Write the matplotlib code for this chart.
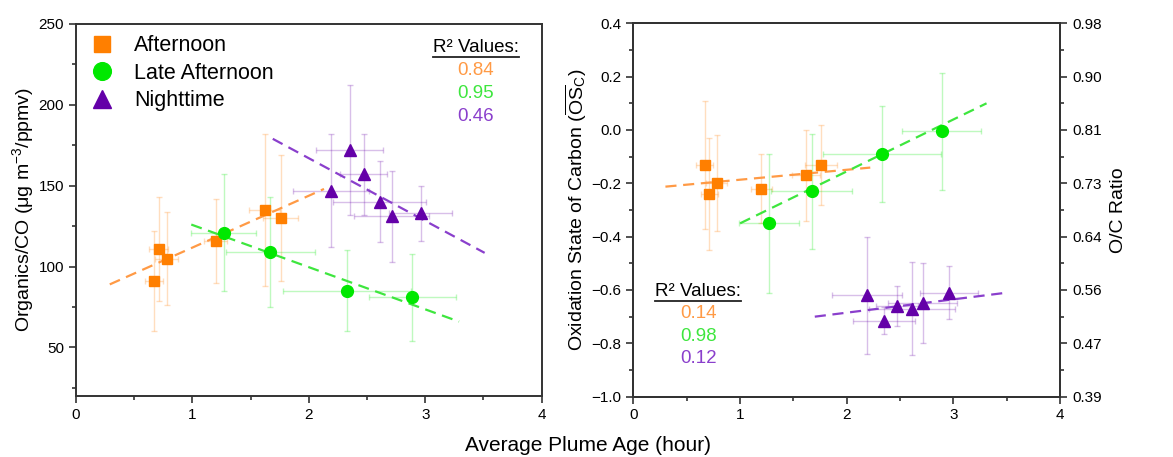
import matplotlib
matplotlib.use("Agg")
import matplotlib.pyplot as plt
from matplotlib.ticker import MultipleLocator

plt.rcParams["font.family"] = ["Liberation Sans", "DejaVu Sans"]
plt.rcParams["mathtext.fontset"] = "custom"
plt.rcParams["mathtext.rm"] = "Liberation Sans"
plt.rcParams["mathtext.it"] = "Liberation Sans:italic"

# plume age (hour) and its spread, shared by both panels
age_aft = [0.67, 0.71, 0.78, 1.20, 1.62, 1.76]
age_aft_err = [0.08, 0.08, 0.10, 0.10, 0.13, 0.15]
age_late = [1.27, 1.67, 2.33, 2.89]
age_late_err = [0.28, 0.38, 0.55, 0.37]
age_night = [2.19, 2.35, 2.47, 2.61, 2.71, 2.96]
age_night_err = [0.33, 0.29, 0.20, 0.40, 0.32, 0.27]

# left panel: Organics/CO
org_aft = [91, 111, 105, 116, 135, 130]
org_aft_err = [31, 32, 29, 26, 47, 39]
org_late = [121, 109, 85, 81]
org_late_err = [36, 34, 25, 27]
org_night = [147, 172, 157, 140, 131, 133]
org_night_err = [35, 40, 25, 25, 28, 17]

# right panel: carbon oxidation state
osc_aft = [-0.13, -0.24, -0.20, -0.22, -0.17, -0.13]
osc_aft_err = [0.24, 0.21, 0.18, 0.13, 0.17, 0.15]
osc_late = [-0.35, -0.23, -0.09, -0.005]
osc_late_err = [0.26, 0.215, 0.18, 0.22]
osc_night = [-0.62, -0.715, -0.66, -0.67, -0.65, -0.61]
osc_night_err = [0.22, 0.05, 0.075, 0.175, 0.15, 0.10]

# linear fits (end points)
fit_org_aft = ([0.29, 2.13], [89, 148])
fit_org_late = ([0.99, 3.29], [126, 66])
fit_org_night = ([1.69, 3.51], [179, 108.5])
fit_osc_aft = ([0.30, 2.22], [-0.2125, -0.141])
fit_osc_late = ([1.00, 3.31], [-0.35, 0.10])
fit_osc_night = ([1.70, 3.50], [-0.70, -0.61])

r2_org = ["0.84", "0.95", "0.46"]
r2_osc = ["0.14", "0.98", "0.12"]

osc_ticks = [0.4, 0.2, 0.0, -0.2, -0.4, -0.6, -0.8, -1.0]
oc_labels = ["0.98", "0.90", "0.81", "0.73", "0.64", "0.56", "0.47", "0.39"]

labels = ["Afternoon", "Late Afternoon", "Nighttime"]
colors = ["#FF7F00", "#00E800", "#6400A8"]
line_colors = ["#FF9A45", "#3EE63E", "#8A3FCC"]
markers = ["s", "o", "^"]
msizes = [7.5, 8.5, 9]

fig = plt.figure(figsize=(11.73, 4.57), dpi=100)
ax1 = fig.add_axes([0.0648, 0.1335, 0.397, 0.814])
ax2 = fig.add_axes([0.540, 0.132, 0.3638, 0.817])


def draw_panel(ax, ys, yerrs, fits):
    xs = [age_aft, age_late, age_night]
    xerrs = [age_aft_err, age_late_err, age_night_err]
    for i in range(3):
        ax.errorbar(xs[i], ys[i], yerr=yerrs[i], xerr=xerrs[i], fmt="none",
                    ecolor=colors[i], alpha=0.25, elinewidth=1, capsize=2.5, zorder=1)
    for i in range(3):
        ax.plot(fits[i][0], fits[i][1], ls=(0, (5, 3)), lw=1.6,
                color=line_colors[i], zorder=2)
    for i in range(3):
        ax.plot(xs[i], ys[i], ls="none", marker=markers[i], ms=msizes[i],
                color=colors[i], mec=colors[i], label=labels[i], zorder=3)
    ax.set_xlim(0, 4)
    ax.xaxis.set_major_locator(MultipleLocator(1))
    ax.xaxis.set_minor_locator(MultipleLocator(0.5))
    ax.tick_params(which="both", direction="out", labelsize=11, color="#333333",
                   width=1.2)
    ax.tick_params(which="major", length=5)
    ax.tick_params(which="minor", length=3)
    for s in ax.spines.values():
        s.set_linewidth(1.4)
        s.set_color("#333333")


draw_panel(ax1, [org_aft, org_late, org_night],
           [org_aft_err, org_late_err, org_night_err],
           [fit_org_aft, fit_org_late, fit_org_night])
ax1.set_ylim(20, 250)
ax1.yaxis.set_major_locator(MultipleLocator(50))
ax1.yaxis.set_minor_locator(MultipleLocator(25))
ax1.set_ylabel("Organics/CO (μg m$^{-3}$/ppmv)", fontsize=14, labelpad=2)
ax1.legend(loc="upper left", bbox_to_anchor=(0.033, 0.97), frameon=False,
           fontsize=15.5, markerscale=1.5, handlelength=1.0, handletextpad=1.0,
           labelspacing=0.3, borderpad=0, borderaxespad=0)

draw_panel(ax2, [osc_aft, osc_late, osc_night],
           [osc_aft_err, osc_late_err, osc_night_err],
           [fit_osc_aft, fit_osc_late, fit_osc_night])
ax2.set_ylim(-1.0, 0.4)
ax2.set_yticks(osc_ticks)
ax2.yaxis.set_minor_locator(MultipleLocator(0.1))
ax2.yaxis.set_major_formatter(plt.FuncFormatter(lambda v, p: f"{v:.1f}".replace("-", "\u2212")))
ax2.set_ylabel(r"Oxidation State of Carbon ($\overline{\mathrm{OS}}_\mathrm{C}$)",
               fontsize=14, labelpad=2)

ax3 = ax2.twinx()
ax3.set_ylim(-1.0, 0.4)
ax3.set_yticks(osc_ticks)
ax3.set_yticklabels(oc_labels)
ax3.yaxis.set_minor_locator(MultipleLocator(0.1))
ax3.tick_params(which="both", direction="out", labelsize=11, color="#333333", width=1.2)
ax3.tick_params(which="major", length=5)
ax3.tick_params(which="minor", length=3)
ax3.set_ylabel("O/C Ratio", fontsize=14, labelpad=6)
for s in ax3.spines.values():
    s.set_linewidth(1.4)
    s.set_color("#333333")

fig.text(0.501, 0.026, "Average Plume Age (hour)", fontsize=15, ha="center", va="center")

# R squared blocks
heads = []
heads.append(ax1.text(0.858, 0.9355, "R² Values:", transform=ax1.transAxes,
                      fontsize=13.5, ha="center", va="center"))
for v, yy, c in zip(r2_org, [0.8745, 0.812, 0.751], line_colors):
    ax1.text(0.858, yy, v, transform=ax1.transAxes, fontsize=13.5, ha="center",
             va="center", color=c)
heads.append(ax2.text(0.1516, 0.281, "R² Values:", transform=ax2.transAxes,
                      fontsize=13.5, ha="center", va="center"))
for v, yy, c in zip(r2_osc, [0.2215, 0.160, 0.101], line_colors):
    ax2.text(0.1516, yy, v, transform=ax2.transAxes, fontsize=13.5, ha="center",
             va="center", color=c)

# underline the headings
fig.canvas.draw()
inv = fig.transFigure.inverted()
for t in heads:
    bb = t.get_window_extent()
    (x0, y0), (x1, _) = inv.transform([(bb.x0, bb.y0), (bb.x1, bb.y1)])
    fig.add_artist(plt.Line2D([x0, x1], [y0 - 0.002, y0 - 0.002], color="#222222",
                              lw=1.3, transform=fig.transFigure))

fig.savefig("out.png", dpi=100)
